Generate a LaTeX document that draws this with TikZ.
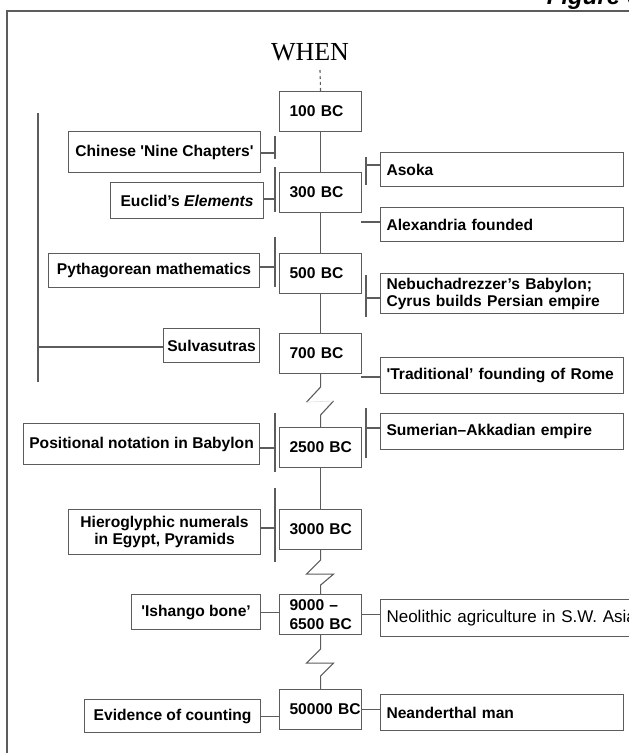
\documentclass[tikz,border=0pt]{standalone}
\usepackage{fontspec}
\setmainfont{Liberation Sans}
\newfontfamily\whenfont{Liberation Serif}
\definecolor{lineGray}{HTML}{5C5C5C}
\newcommand{\boxfont}{\fontsize{15.6}{17}\selectfont\bfseries}
\begin{document}
\begin{tikzpicture}[x=1pt,y=-1pt,line width=1.1pt,
  yearS/.style={draw=lineGray,anchor=north west,minimum width=82,minimum height=40,inner xsep=10,text width=62,align=left,font=\boxfont},
  eventS/.style={draw=lineGray,anchor=north west,inner sep=0,align=center,font=\boxfont},
  worldS/.style={draw=lineGray,anchor=north west,minimum width=243,inner xsep=6,text width=231,align=left,font=\boxfont},
  linkS/.style={draw=lineGray},
  faintS/.style={draw=gray!25,line width=0.6pt}]
\useasboundingbox (0,0) rectangle (629,753);
\draw[linkS] (7,770) -- (7,11) -- (650,11);
\node[anchor=base west,font=\fontsize{24}{24}\selectfont\bfseries\itshape] (fig) at (543,4) {Figure 6};
\node[anchor=base,font=\whenfont\fontsize{26}{26}\selectfont] (when) at (310,60) {WHEN};
\coordinate (wTop) at (320,70);

% the time line
\node[yearS] (y100) at (279,91) {100~BC};
\node[yearS] (y300) at (279,172) {300~BC};
\node[yearS] (y500) at (279,253) {500~BC};
\node[yearS] (y700) at (279,333) {700~BC};
\node[yearS] (y2500) at (279,427) {2500~BC};
\node[yearS] (y3000) at (279,509) {3000~BC};
\node[yearS,inner ysep=1] (y9000) at (279,594) {9000~--\\[2pt]6500~BC};
\node[yearS] (y50000) at (279,689) {50000~BC};

% mathematics
\node[eventS,minimum width=192,minimum height=41] (eChinese) at (68,131) {Chinese \textquotesingle Nine Chapters\textquotesingle};
\node[eventS,minimum width=153,minimum height=36] (eEuclid) at (110,182) {Euclid's \textit{Elements}};
\node[eventS,minimum width=211,minimum height=34] (ePythag) at (48,253) {Pythagorean mathematics};
\node[eventS,minimum width=96,minimum height=34] (eSulva) at (163,328) {Sulvasutras};
\node[eventS,minimum width=236,minimum height=41] (ePosit) at (23,423) {Positional notation in Babylon};
\node[eventS,minimum width=192,minimum height=45] (eHiero) at (68,509) {Hieroglyphic numerals\\in Egypt, Pyramids};
\node[eventS,minimum width=129,minimum height=35] (eIshango) at (131,594) {\textquotesingle Ishango bone'};
\node[eventS,minimum width=176,minimum height=33] (eCount) at (84,699) {Evidence of counting};

% history
\node[worldS,minimum height=34] (wAsoka) at (380,152) {Asoka};
\node[worldS,minimum height=34] (wAlex) at (380,207) {Alexandria founded};
\node[worldS,minimum height=40,inner ysep=2] (wNebu) at (380,273) {Nebuchadrezzer's Babylon;\\Cyrus builds Persian empire};
\node[worldS,minimum height=36] (wRome) at (380,357) {\textquotesingle Traditional' founding of~Rome};
\node[worldS,minimum height=36] (wSumer) at (380,413) {Sumerian--Akkadian empire};
\node[worldS,minimum height=37,minimum width=300,text width=288,font=\fontsize{17}{19}\selectfont] (wNeo) at (380,599) {Neolithic agriculture in S.W. Asia};
\node[worldS,minimum height=36] (wNeand) at (380,694) {Neanderthal man};

\draw[linkS,dash pattern=on 3pt off 3pt] (wTop) -- (y100.north);
\draw[linkS] (y100.south) -- (y300.north);
\draw[linkS] (y300.south) -- (y500.north);
\draw[linkS] (y500.south) -- (y700.north);
\draw[linkS] (y700.south) -- ++(0,13) -- ++(-14,15) coordinate (z1a);
\draw[linkS] (y2500.north) -- ++(0,-12) -- ++(13,-14) coordinate (z1b);
\draw[faintS] (z1a) -- (z1b);
\draw[linkS] (y2500.south) -- (y3000.north);
\draw[linkS] (y3000.south) -- ++(0,10) -- ++(-14,14) -- ++(27,0) -- ++(-13,11) -- (y9000.north);
\draw[linkS] (y9000.south) -- ++(0,14) -- ++(-14,14) -- ++(27,0) -- ++(-13,13) -- (y50000.north);

% left brackets
\coordinate (kChinese) at (275,153);
\draw[linkS] (eChinese.east |- kChinese) -- (kChinese);
\draw[linkS] (275,136) -- (275,159);
\coordinate (kEuclid) at (275,199);
\draw[linkS] (eEuclid.east |- kEuclid) -- (kEuclid);
\draw[linkS] (275,167) -- (275,212);
\coordinate (kPythag) at (275,267);
\draw[linkS] (ePythag.east |- kPythag) -- (kPythag);
\draw[linkS] (275,237) -- (275,287);
\coordinate (kPosit) at (275,448);
\draw[linkS] (ePosit.east |- kPosit) -- (kPosit);
\draw[linkS] (275,413) -- (275,472);
\coordinate (kHiero) at (275,528);
\draw[linkS] (eHiero.east |- kHiero) -- (kHiero);
\draw[linkS] (275,488) -- (275,562);
\coordinate (kSulva) at (38,347);
\draw[linkS] (kSulva) -- (eSulva.west |- kSulva);
\draw[linkS] (38,113) -- (38,382);
\draw[linkS] (eIshango.east) -- (eIshango.east -| y9000.west);
\draw[linkS] (eCount.east) -- (eCount.east -| y50000.west);

% right brackets
\coordinate (kAsoka) at (366,165);
\draw[linkS] (kAsoka) -- (wAsoka.west |- kAsoka);
\draw[linkS] (366,157) -- (366,185);
\coordinate (kNebu) at (366,298);
\draw[linkS] (kNebu) -- (wNebu.west |- kNebu);
\draw[linkS] (366,275) -- (366,317);
\coordinate (kSumer) at (366,428);
\draw[linkS] (kSumer) -- (wSumer.west |- kSumer);
\draw[linkS] (366,408) -- (366,458);
\coordinate (kAlex) at (361,222);
\draw[linkS] (kAlex) -- (wAlex.west |- kAlex);
\coordinate (kRome) at (361,377);
\draw[linkS] (kRome) -- (wRome.west |- kRome);
\draw[linkS] (wNeo.west |- y9000.east) -- (y9000.east);
\draw[linkS] (wNeand.west |- y50000.east) -- (y50000.east);
\end{tikzpicture}
\end{document}
